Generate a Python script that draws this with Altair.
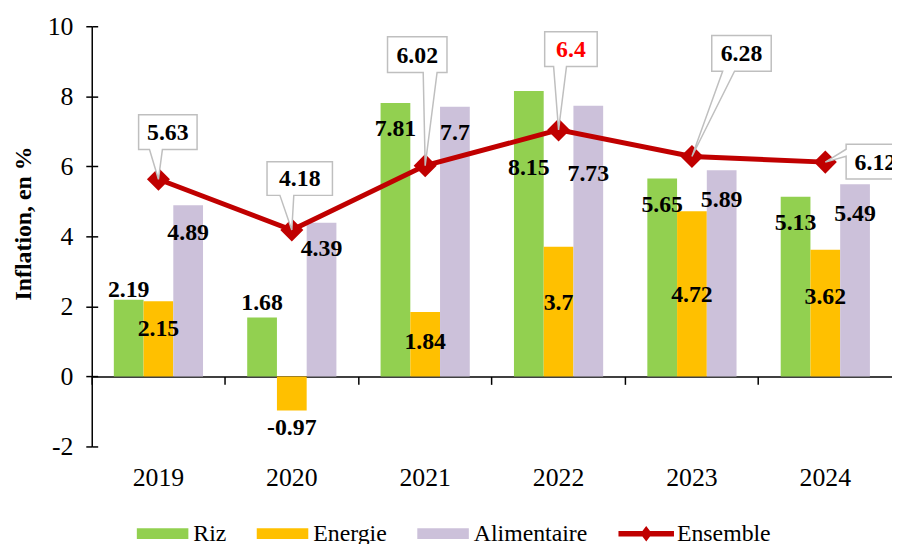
import altair as alt
import pandas as pd

# ---------------- data ----------------
years = ["2019", "2020", "2021", "2022", "2023", "2024"]
series_names = ["Riz", "Energie", "Alimentaire"]
riz = [2.19, 1.68, 7.81, 8.15, 5.65, 5.13]
energie = [2.15, -0.97, 1.84, 3.7, 4.72, 3.62]
alimentaire = [4.89, 4.39, 7.7, 7.73, 5.89, 5.49]
ensemble = [5.63, 4.18, 6.02, 7.04, 6.28, 6.12]
ensemble_labels = ["5.63", "4.18", "6.02", "6.4", "6.28", "6.12"]
highlighted_year = "2022"
y_ticks = [-2, 0, 2, 4, 6, 8, 10]

# ---------------- layout (pixels) ----------------
riz_label_dy = [-10, -15, 26, 78, 27, 27]
energie_label_dy = [28, 18, 30, 57, 85, 48]
alim_label_dy = [28, 27, 26, 69, 30, 30]
# callout boxes relative to the marker: (left, right, top, bottom)
callout_boxes = [(-20, 39, -65, -30), (-25, 41, -69, -35), (-38, 22, -130, -94),
                 (-14, 39, -99, -64), (20, 80, -122, -86), (21, 80, -18, 17)]
callout_tails = [("bottom", -9, 4), ("bottom", -12, 2), ("bottom", -2, 12),
                 ("bottom", -5, 8), ("bottom", 31, 43), ("left", -13, -6)]

W, H = 807.5, 424
PX = 12 / H  # data units per pixel on the y scale
FONT = "Liberation Serif"
colors = ["#92d050", "#ffc000", "#ccc1da", "#c00000"]
legend_names = series_names + ["Ensemble"]


def callout_path(box, tail):
    L, R, T, B = box
    side, a, b = tail
    if side == "bottom":
        return f"M{L},{T}L{R},{T}L{R},{B}L{b},{B}L0,0L{a},{B}L{L},{B}Z"
    return f"M{L},{T}L{R},{T}L{R},{B}L{L},{B}L{L},{b}L0,0L{L},{a}Z"


rows = []
for name, vals, dys in zip(series_names, [riz, energie, alimentaire],
                           [riz_label_dy, energie_label_dy, alim_label_dy]):
    for yr, v, d in zip(years, vals, dys):
        rows.append({"year": yr, "series": name, "value": v, "label": str(v), "dy": d})
bars_df = pd.DataFrame(rows)

ens_df = pd.DataFrame({
    "year": years,
    "ens": ensemble,
    "label": ensemble_labels,
    "cdx": [(b[0] + b[1]) / 2 + W / 12 for b in callout_boxes],
    "cdy": [(b[2] + b[3]) / 2 + 1 for b in callout_boxes],
})
legend_df = pd.DataFrame({"series": legend_names})

x_scale = alt.Scale(domain=years, paddingInner=0, paddingOuter=0)
y_scale = alt.Scale(domain=[-2, 10], nice=False, zero=False)
color_scale = alt.Scale(domain=legend_names, range=colors)

y_axis = alt.Axis(values=y_ticks, title="Inflation, en %", grid=False,
                  labelFont=FONT, labelFontSize=26, labelColor="black",
                  labelExpr="'' + datum.value",
                  domainColor="black", domainWidth=1.5, tickColor="black",
                  tickWidth=1.5, tickSize=6, labelPadding=13,
                  titleFont=FONT, titleFontSize=24, titleFontWeight="bold",
                  titleColor="black", titleX=-61.5, titleY=198.5,
                  titleBaseline="alphabetic", orient="left")
y_inner = alt.Axis(values=y_ticks, orient="left", offset=-6, tickSize=6,
                   domain=False, labels=False, title=None, grid=False,
                   tickColor="black", tickWidth=1.5)
x_label_axis = alt.Axis(orient="bottom", domain=False, ticks=False, labelAngle=0,
                        labelFont=FONT, labelFontSize=26, labelColor="black",
                        labelPadding=18, title=None, grid=False)
x_zero_axis = alt.Axis(orient="bottom", offset=-(H * 2 / 12), labels=False,
                       domainColor="black", domainWidth=1.5, ticks=True,
                       tickSize=8, tickColor="black", tickWidth=1.5,
                       bandPosition=0, title=None, grid=False)

xoff = alt.XOffset("series:N", scale=alt.Scale(domain=series_names,
                                                paddingOuter=0.743, paddingInner=0))

bars = alt.Chart(bars_df).mark_bar().encode(
    x=alt.X("year:N", scale=x_scale, axis=x_label_axis, sort=years),
    xOffset=xoff,
    y=alt.Y("value:Q", scale=y_scale, axis=y_axis),
    color=alt.Color("series:N", scale=color_scale, legend=None),
)

bar_labels = alt.Chart(bars_df).transform_calculate(
    ly=f"datum.value - datum.dy * {PX}"
).mark_text(
    font=FONT, fontSize=24, fontWeight="bold", color="black", baseline="middle"
).encode(
    x=alt.X("year:N", scale=x_scale, axis=None, sort=years),
    xOffset=xoff,
    y=alt.Y("ly:Q", scale=y_scale, axis=y_inner),
    text="label:N",
)

line = alt.Chart(ens_df).mark_line(color="#c00000", strokeWidth=5).encode(
    x=alt.X("year:N", scale=x_scale, axis=x_zero_axis, sort=years),
    y=alt.Y("ens:Q", scale=y_scale, axis=None),
)

markers = alt.Chart(ens_df).mark_point(
    shape="diamond", filled=True, color="#c00000", size=540, opacity=1
).encode(
    x=alt.X("year:N", scale=x_scale, axis=None, sort=years),
    y=alt.Y("ens:Q", scale=y_scale, axis=None),
)

callout_layers = []
for yr, box, tail in zip(years, callout_boxes, callout_tails):
    callout_layers.append(
        alt.Chart(ens_df).transform_filter(alt.datum.year == yr).mark_point(
            shape=callout_path(box, tail), size=4, filled=True, fill="white",
            stroke="#bfbfbf", strokeWidth=1.5, opacity=1
        ).encode(
            x=alt.X("year:N", scale=x_scale, axis=None, sort=years),
            y=alt.Y("ens:Q", scale=y_scale, axis=None),
        )
    )

callout_text = alt.Chart(ens_df).transform_calculate(
    ly=f"datum.ens - datum.cdy * {PX}"
).mark_text(
    font=FONT, fontSize=24, fontWeight="bold", baseline="middle"
).encode(
    x=alt.X("year:N", scale=x_scale, axis=None, sort=years),
    y=alt.Y("ly:Q", scale=y_scale, axis=None),
    xOffset=alt.XOffset("cdx:Q", scale=None),
    text="label:N",
    color=alt.condition(alt.datum.year == highlighted_year,
                        alt.value("#ff0000"), alt.value("black")),
)

rect_sym = "M-1,-0.2115L1,-0.2115L1,0.2115L-1,0.2115Z"
ens_sym = ("M-1.077,-0.108L-0.147,-0.108L0,-0.3L0.147,-0.108L1.077,-0.108"
           "L1.077,0.108L0.147,0.108L0,0.3L-0.147,0.108L-1.077,0.108Z")
leg = alt.Legend(title=None, orient="none", legendX=45.5, legendY=486,
                 direction="horizontal", labelFont=FONT, labelFontSize=24,
                 labelColor="black", labelOffset=5, columnPadding=30,
                 symbolSize=2704, symbolStrokeWidth=0, padding=0, labelLimit=400,
                 symbolOpacity=1, symbolFillColor="#000000")
legend_layer = alt.Chart(legend_df).mark_point(
    filled=True, size=2704, opacity=0
).encode(
    color=alt.Color("series:N", scale=color_scale, legend=leg),
    shape=alt.Shape("series:N", scale=alt.Scale(domain=legend_names,
                                               range=[rect_sym, rect_sym, rect_sym, ens_sym]),
                    legend=leg),
)

chart = alt.layer(
    bars, bar_labels, line, markers, *callout_layers, callout_text, legend_layer
).resolve_axis(x="independent", y="independent").resolve_scale(
    color="independent", shape="independent"
).properties(
    width=W, height=H,
    autosize=alt.AutoSizeParams(type="none"),
    padding={"left": 84.5, "top": 16, "right": 0, "bottom": 96},
).configure_view(stroke=None).configure_axis(grid=False)

chart.save("out.html", embed_options={"renderer": "svg", "actions": False})
